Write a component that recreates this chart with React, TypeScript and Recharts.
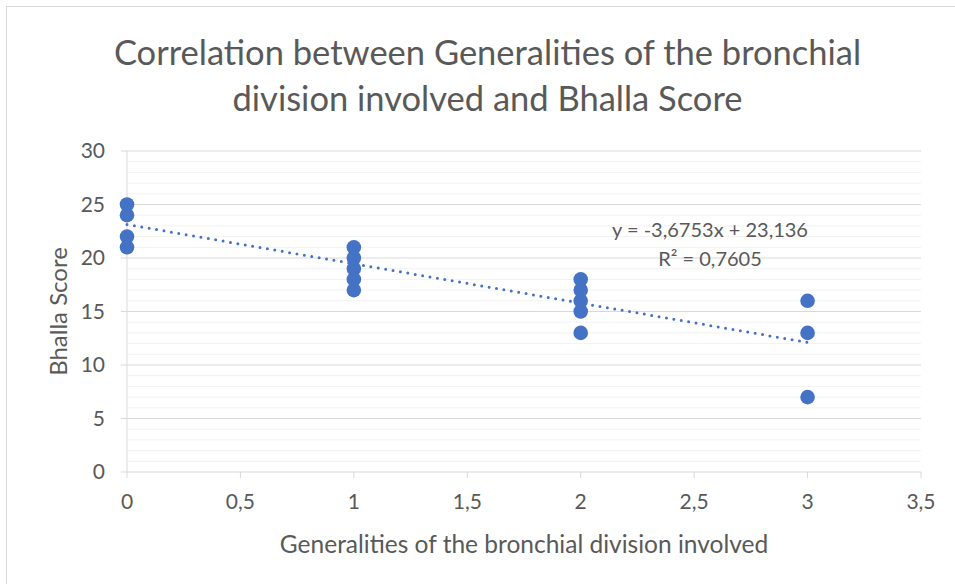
import React from 'react';
import { ScatterChart, Scatter, XAxis, YAxis, ReferenceLine } from 'recharts';

const generations = [0, 0, 0, 0, 1, 1, 1, 1, 1, 2, 2, 2, 2, 2, 3, 3, 3];
const bhallaScores = [25, 24, 22, 21, 21, 20, 19, 18, 17, 18, 17, 16, 15, 13, 16, 13, 7];
const xTicks = [0, 0.5, 1, 1.5, 2, 2.5, 3, 3.5];
const yTicks = [0, 5, 10, 15, 20, 25, 30];
const yMinorLines = [1, 2, 3, 4, 6, 7, 8, 9, 11, 12, 13, 14, 16, 17, 18, 19, 21, 22, 23, 24, 26, 27, 28, 29];
const TREND_SLOPE = -3.6753;
const TREND_INTERCEPT = 23.136;
const trendX = [0, 3];
const titleLines = ['Correlation between Generalities of the bronchial', 'division involved and Bhalla Score'];
const equationLines = ['y = -3,6753x + 23,136', 'R² = 0,7605'];

const points = generations.map((g, i) => ({ x: g, y: bhallaScores[i] }));
const trend = trendX.map((x) => ({ x, y: TREND_SLOPE * x + TREND_INTERCEPT }));

const FONT = 'Lato, "Liberation Sans", sans-serif';
const TXT = '#595959';
const fmt = (v: number) => String(v).replace('.', ',');

export default function App() {
  return (
    <div style={{ position: 'absolute', left: 0, top: 0, width: 955, height: 584, overflow: 'hidden', background: '#fff', fontFamily: FONT }}>
      <div style={{ position: 'absolute', left: 6, top: 6, width: 1000, height: 640, border: '1px solid #d9d9d9' }} />
      <ScatterChart width={955} height={584} margin={{ top: 151, right: 34, bottom: 0, left: 0 }} style={{ position: 'absolute', left: 0, top: 0 }}>
        {yMinorLines.map((v) => (
          <ReferenceLine key={'m' + v} y={v} stroke="#f2f2f2" strokeWidth={1} />
        ))}
        {yTicks.slice(1).map((v) => (
          <ReferenceLine key={'M' + v} y={v} stroke="#d9d9d9" strokeWidth={1} />
        ))}
        <XAxis
          type="number"
          dataKey="x"
          domain={[0, 3.5]}
          ticks={xTicks}
          tickFormatter={fmt}
          height={112}
          stroke="#d9d9d9"
          tickLine={{ stroke: '#d9d9d9' }}
          tickSize={6}
          tick={{ fill: TXT, fontSize: 21, fontFamily: FONT }}
          tickMargin={16}
          label={{ value: 'Generalities of the bronchial division involved', position: 'insideBottom', offset: 31, fill: TXT, fontSize: 24.5, fontFamily: FONT }}
        />
        <YAxis
          type="number"
          dataKey="y"
          domain={[0, 30]}
          ticks={yTicks}
          width={127}
          stroke="#d9d9d9"
          tickLine={{ stroke: '#d9d9d9' }}
          tickSize={6}
          tickMargin={16}
          tick={{ fill: TXT, fontSize: 21, fontFamily: FONT }}
          label={{ value: 'Bhalla Score', angle: -90, position: 'center', dx: -5, fill: TXT, fontSize: 24, fontFamily: FONT }}
        />
        <Scatter data={points} fill="#4472c4" isAnimationActive={false} shape={(p: any) => <circle cx={p.cx} cy={p.cy} r={7.3} fill="#4472c4" />} />
        <Scatter
          data={trend}
          line={{ stroke: '#4472c4', strokeWidth: 3, strokeDasharray: '0 7.5', strokeLinecap: 'round' }}
          shape={() => <g />}
          isAnimationActive={false}
        />
      </ScatterChart>
      <div style={{ position: 'absolute', left: 0, width: 975, top: 29, textAlign: 'center', color: TXT, fontSize: 34.5, lineHeight: '46px' }}>
        {titleLines.map((t) => (
          <div key={t}>{t}</div>
        ))}
      </div>
      <div style={{ position: 'absolute', left: 560, width: 300, top: 215, textAlign: 'center', color: TXT, fontSize: 20, lineHeight: '29px' }}>
        {equationLines.map((t) => (
          <div key={t}>{t}</div>
        ))}
      </div>
    </div>
  );
}
